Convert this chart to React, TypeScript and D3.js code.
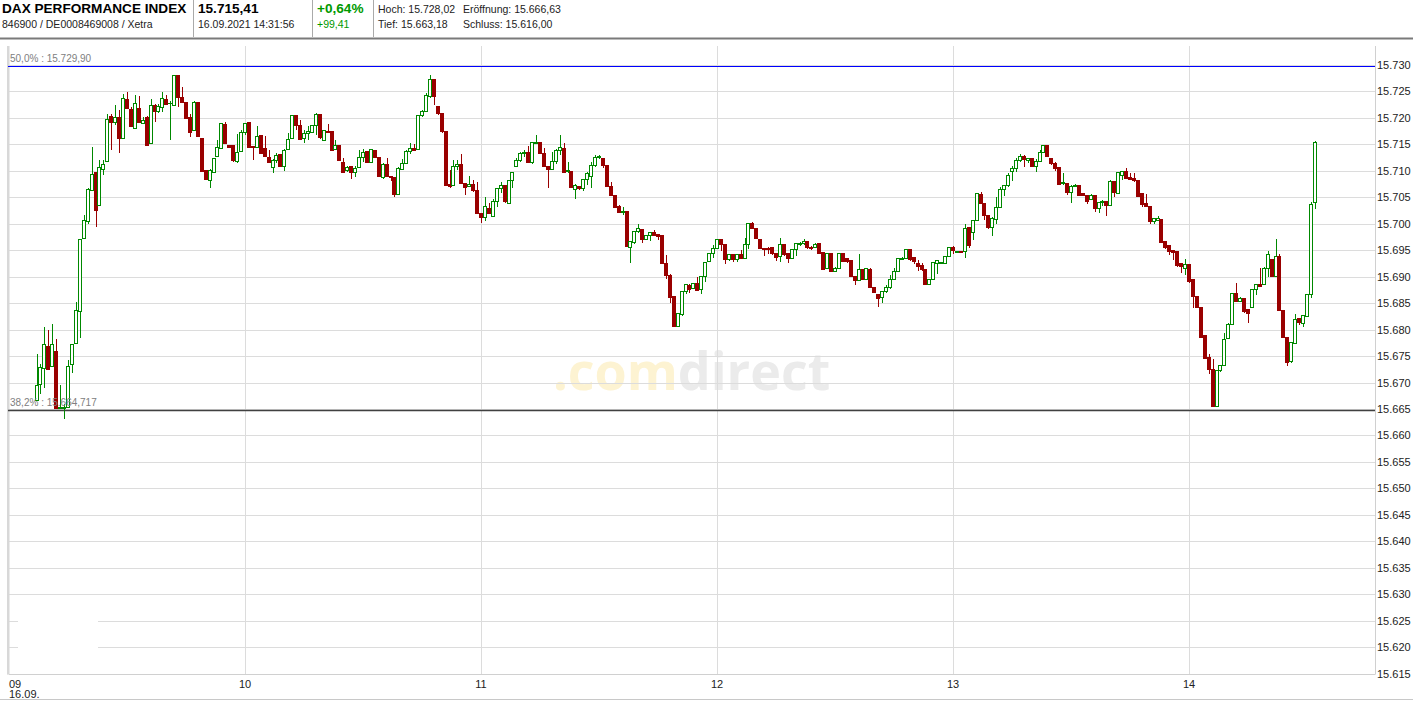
import React, { useEffect, useRef } from 'react';
import * as d3 from 'd3';

// 1-minute bars, first bar 09:07
const FIRST_BAR = new Date(2021, 8, 16, 9, 7);

const opens = [
    15666.6, 15669.6, 15672.6, 15676.9, 15673.0, 15675.9, 15665.0, 15665.0, 15665.2, 15673.5,
    15677.4, 15683.4, 15697.2, 15700.4, 15706.2, 15709.7, 15703.4, 15710.3, 15711.7, 15720.3,
    15719.1, 15720.1, 15716.2, 15723.5, 15721.5, 15718.0, 15721.7, 15719.0, 15720.1, 15715.2,
    15722.4, 15721.2, 15721.9, 15723.5, 15722.7, 15722.4, 15728.0, 15723.9, 15723.0, 15720.1,
    15717.7, 15722.9, 15716.1, 15710.0, 15708.2, 15709.7, 15712.8, 15714.2, 15718.8, 15714.7,
    15714.7, 15711.7, 15713.7, 15717.2, 15719.2, 15714.6, 15714.4, 15716.6, 15714.2, 15712.5,
    15710.7, 15712.0, 15713.0, 15710.8, 15714.1, 15716.1, 15720.4, 15718.6, 15716.1, 15717.1,
    15717.2, 15718.5, 15720.7, 15715.8, 15717.5, 15717.5, 15714.1, 15714.7, 15711.5, 15710.0,
    15710.9, 15709.6, 15710.7, 15712.5, 15713.7, 15711.5, 15713.9, 15712.5, 15708.8, 15711.2,
    15709.0, 15708.8, 15705.6, 15710.3, 15711.4, 15713.6, 15714.2, 15714.1, 15720.4, 15721.3,
    15724.1, 15727.3, 15722.2, 15720.9, 15717.5, 15707.5, 15707.3, 15710.8, 15711.2, 15707.6,
    15707.0, 15707.5, 15706.2, 15702.0, 15701.2, 15702.9, 15701.3, 15704.2, 15706.7, 15707.3,
    15703.9, 15708.1, 15710.8, 15712.0, 15713.3, 15713.5, 15711.5, 15715.2, 15715.4, 15713.2,
    15710.9, 15710.2, 15711.8, 15713.8, 15714.2, 15709.8, 15709.8, 15706.4, 15707.1, 15706.6,
    15708.4, 15709.0, 15711.0, 15712.5, 15712.4, 15711.1, 15707.1, 15705.4, 15703.3, 15702.2,
    15702.4, 15695.5, 15696.4, 15698.6, 15698.9, 15697.0, 15697.7, 15698.3, 15697.9, 15697.7,
    15692.5, 15690.3, 15686.3, 15680.5, 15682.9, 15687.2, 15688.4, 15687.8, 15688.7, 15687.5,
    15690.0, 15692.8, 15694.4, 15695.3, 15697.1, 15696.0, 15693.2, 15694.1, 15693.3, 15694.1,
    15693.5, 15696.0, 15700.1, 15699.1, 15697.1, 15695.4, 15695.4, 15695.6, 15694.4, 15693.8,
    15696.0, 15694.3, 15693.5, 15695.2, 15696.0, 15696.2, 15696.6, 15695.6, 15695.6, 15696.2,
    15694.5, 15691.6, 15694.3, 15691.0, 15691.6, 15694.4, 15693.5, 15693.0, 15690.0, 15689.3,
    15691.3, 15689.4, 15691.4, 15688.0, 15686.7, 15686.1, 15687.2, 15688.0, 15689.4, 15691.0,
    15693.3, 15693.5, 15695.1, 15693.7, 15692.4, 15692.2, 15691.4, 15688.6, 15689.4, 15692.5,
    15692.5, 15692.4, 15693.9, 15695.6, 15694.5, 15694.7, 15694.7, 15699.3, 15698.3, 15700.7,
    15705.6, 15703.8, 15701.6, 15699.3, 15700.8, 15703.1, 15706.4, 15707.3, 15709.8, 15710.5,
    15711.9, 15712.8, 15712.0, 15712.3, 15710.9, 15711.7, 15713.4, 15714.7, 15712.3, 15711.4,
    15710.6, 15707.6, 15707.7, 15705.9, 15707.1, 15707.3, 15705.7, 15705.4, 15704.6, 15705.4,
    15702.9, 15704.0, 15704.3, 15703.5, 15707.9, 15705.7, 15709.2, 15709.8, 15708.8, 15708.6,
    15708.2, 15705.7, 15703.8, 15703.3, 15700.4, 15700.6, 15700.8, 15696.6, 15695.8, 15694.9,
    15694.7, 15692.5, 15691.6, 15692.3, 15689.5, 15686.3, 15684.2, 15678.8, 15674.7, 15672.5,
    15665.5, 15672.2, 15673.3, 15678.3, 15681.0, 15686.8, 15685.3, 15685.9, 15683.8, 15684.2,
    15687.5, 15688.6, 15688.6, 15691.6, 15693.3, 15690.1, 15693.9, 15683.6, 15678.5, 15673.9,
    15677.4, 15682.1, 15681.2, 15682.5, 15686.7, 15704.0
];

const highs = [
    15675.4, 15673.5, 15680.5, 15679.9, 15681.1, 15678.3, 15669.5, 15666.0, 15674.2, 15677.1,
    15685.2, 15697.2, 15701.6, 15706.7, 15714.5, 15709.7, 15712.0, 15712.0, 15720.7, 15720.7,
    15722.4, 15721.5, 15724.5, 15724.9, 15722.1, 15724.3, 15724.1, 15720.2, 15720.4, 15723.5,
    15722.6, 15722.7, 15724.9, 15724.3, 15723.2, 15728.0, 15728.0, 15725.9, 15723.0, 15720.7,
    15723.2, 15722.9, 15716.1, 15710.2, 15710.4, 15712.3, 15715.9, 15718.9, 15719.3, 15714.8,
    15714.7, 15716.9, 15717.8, 15718.9, 15719.2, 15714.7, 15718.5, 15716.8, 15716.6, 15713.9,
    15712.3, 15713.3, 15713.0, 15714.2, 15717.2, 15720.4, 15720.4, 15719.7, 15717.7, 15718.5,
    15718.7, 15721.0, 15720.7, 15717.7, 15718.8, 15717.5, 15715.9, 15714.7, 15712.5, 15710.9,
    15710.9, 15710.9, 15714.0, 15714.2, 15713.7, 15714.1, 15713.9, 15712.5, 15711.4, 15712.5,
    15709.0, 15708.8, 15710.8, 15712.2, 15713.9, 15715.3, 15715.1, 15720.4, 15721.5, 15724.8,
    15728.1, 15727.3, 15722.2, 15720.9, 15717.5, 15710.2, 15712.0, 15712.0, 15713.2, 15707.6,
    15709.0, 15708.3, 15707.9, 15702.0, 15705.1, 15703.9, 15704.6, 15706.7, 15707.8, 15707.3,
    15708.1, 15709.7, 15712.4, 15713.6, 15713.9, 15714.7, 15715.4, 15716.8, 15715.4, 15714.4,
    15710.9, 15713.5, 15714.1, 15716.8, 15715.2, 15711.7, 15709.8, 15707.5, 15707.1, 15708.4,
    15709.8, 15711.7, 15712.9, 15712.9, 15712.4, 15711.1, 15707.9, 15705.4, 15703.5, 15703.1,
    15702.4, 15696.6, 15698.6, 15699.9, 15698.9, 15697.7, 15698.3, 15698.9, 15697.9, 15697.7,
    15694.1, 15690.5, 15686.3, 15683.1, 15687.2, 15688.7, 15688.7, 15688.9, 15690.0, 15690.1,
    15692.7, 15694.5, 15696.0, 15697.1, 15697.1, 15696.0, 15694.1, 15694.3, 15694.1, 15695.0,
    15697.3, 15700.0, 15700.4, 15699.1, 15697.1, 15695.4, 15695.6, 15695.6, 15694.4, 15697.3,
    15696.0, 15694.3, 15695.2, 15696.4, 15696.6, 15697.1, 15696.6, 15695.8, 15696.4, 15696.2,
    15694.5, 15694.3, 15694.3, 15691.9, 15694.5, 15694.5, 15693.5, 15693.0, 15690.0, 15694.3,
    15691.3, 15691.6, 15691.6, 15688.0, 15686.7, 15687.2, 15688.4, 15690.3, 15691.6, 15693.5,
    15693.8, 15695.2, 15695.2, 15693.8, 15693.2, 15692.5, 15691.4, 15689.4, 15692.7, 15693.2,
    15692.6, 15693.9, 15695.7, 15695.8, 15694.7, 15694.7, 15699.9, 15699.3, 15700.7, 15705.9,
    15706.0, 15703.8, 15701.6, 15701.2, 15705.1, 15706.9, 15707.3, 15709.6, 15710.9, 15712.5,
    15713.2, 15713.0, 15712.3, 15712.3, 15712.2, 15714.0, 15714.9, 15714.7, 15712.3, 15711.7,
    15710.6, 15709.6, 15707.7, 15707.3, 15707.6, 15707.3, 15705.9, 15705.4, 15705.6, 15705.4,
    15704.0, 15704.5, 15704.3, 15708.2, 15707.9, 15709.8, 15710.0, 15710.5, 15709.6, 15709.5,
    15708.2, 15705.7, 15705.6, 15703.3, 15701.0, 15701.4, 15700.8, 15696.8, 15695.8, 15695.1,
    15694.7, 15692.5, 15693.3, 15692.3, 15689.5, 15686.3, 15684.2, 15678.8, 15675.4, 15674.5,
    15672.2, 15673.3, 15679.4, 15681.3, 15687.0, 15688.8, 15686.2, 15685.9, 15683.8, 15687.5,
    15688.6, 15691.7, 15691.9, 15694.9, 15693.4, 15697.2, 15694.3, 15683.6, 15678.5, 15677.5,
    15682.9, 15682.1, 15682.7, 15686.7, 15704.2, 15715.7
];

const lows = [
    15666.6, 15667.8, 15668.9, 15672.3, 15673.0, 15665.0, 15665.0, 15663.2, 15665.2, 15671.8,
    15677.4, 15678.4, 15697.2, 15699.9, 15706.2, 15699.4, 15703.4, 15709.2, 15711.7, 15713.9,
    15718.6, 15713.4, 15716.2, 15721.7, 15718.2, 15718.0, 15719.0, 15719.0, 15714.6, 15715.2,
    15719.3, 15721.0, 15721.2, 15722.4, 15715.8, 15722.4, 15722.1, 15722.9, 15719.8, 15716.4,
    15717.7, 15716.4, 15709.8, 15708.2, 15706.7, 15709.7, 15712.8, 15714.2, 15715.2, 15714.3,
    15711.6, 15711.4, 15713.6, 15716.7, 15714.4, 15712.0, 15714.4, 15713.2, 15712.7, 15711.4,
    15709.5, 15711.4, 15710.8, 15710.0, 15713.9, 15716.1, 15717.7, 15716.0, 15715.3, 15715.8,
    15717.1, 15716.8, 15716.1, 15715.8, 15717.1, 15713.8, 15714.1, 15711.9, 15709.6, 15709.8,
    15708.5, 15708.8, 15710.5, 15711.7, 15711.5, 15711.4, 15712.4, 15708.9, 15708.4, 15708.9,
    15708.1, 15705.1, 15705.6, 15710.2, 15711.3, 15713.1, 15713.8, 15714.1, 15720.1, 15721.3,
    15723.7, 15722.4, 15720.5, 15717.2, 15707.3, 15706.7, 15707.1, 15710.2, 15707.6, 15705.4,
    15706.9, 15706.0, 15701.9, 15700.1, 15700.5, 15701.8, 15701.2, 15703.1, 15705.9, 15704.0,
    15703.9, 15706.7, 15710.8, 15711.7, 15712.7, 15711.4, 15711.3, 15715.2, 15713.2, 15710.8,
    15706.7, 15710.2, 15711.3, 15713.0, 15709.6, 15709.6, 15706.8, 15704.7, 15706.4, 15706.2,
    15707.3, 15706.8, 15710.8, 15712.2, 15710.5, 15707.0, 15705.4, 15702.9, 15702.1, 15701.6,
    15695.7, 15692.6, 15696.2, 15698.3, 15696.4, 15696.9, 15696.8, 15697.7, 15697.0, 15692.5,
    15689.5, 15685.1, 15680.4, 15680.4, 15682.6, 15686.8, 15687.0, 15687.8, 15687.3, 15686.8,
    15689.0, 15692.8, 15693.6, 15695.3, 15694.9, 15692.4, 15693.0, 15692.8, 15692.7, 15693.3,
    15693.5, 15695.2, 15699.1, 15697.1, 15695.2, 15693.9, 15694.3, 15694.1, 15693.0, 15692.8,
    15693.9, 15692.5, 15693.5, 15693.9, 15695.8, 15696.0, 15695.2, 15695.0, 15695.4, 15694.3,
    15691.3, 15691.4, 15691.0, 15690.8, 15691.6, 15692.8, 15692.5, 15690.0, 15688.4, 15689.3,
    15689.3, 15689.4, 15688.0, 15686.9, 15684.2, 15685.0, 15686.9, 15687.6, 15689.3, 15690.8,
    15693.2, 15693.3, 15693.0, 15692.4, 15691.1, 15691.0, 15688.4, 15688.6, 15689.4, 15690.5,
    15692.4, 15692.4, 15693.9, 15694.3, 15694.5, 15694.5, 15693.6, 15695.5, 15696.9, 15700.6,
    15703.7, 15700.8, 15699.1, 15697.7, 15699.9, 15703.1, 15705.2, 15706.9, 15708.1, 15709.8,
    15711.7, 15710.8, 15711.5, 15710.9, 15709.8, 15711.7, 15713.3, 15712.7, 15711.1, 15710.0,
    15707.3, 15707.3, 15705.4, 15704.0, 15707.0, 15705.4, 15705.2, 15703.8, 15704.5, 15702.3,
    15702.1, 15703.3, 15701.4, 15703.5, 15705.1, 15705.7, 15708.2, 15708.4, 15708.2, 15707.9,
    15705.2, 15703.2, 15703.2, 15699.9, 15699.9, 15700.6, 15696.4, 15695.3, 15694.1, 15693.1,
    15691.9, 15690.7, 15690.3, 15688.8, 15684.0, 15684.0, 15678.6, 15674.4, 15671.7, 15665.5,
    15665.4, 15672.0, 15673.3, 15678.3, 15681.0, 15685.3, 15685.3, 15683.2, 15681.3, 15684.2,
    15686.5, 15688.2, 15688.6, 15690.0, 15689.9, 15690.1, 15683.7, 15678.5, 15673.1, 15673.7,
    15677.4, 15680.8, 15680.4, 15682.3, 15685.9, 15702.7
];

const closes = [
    15669.4, 15672.8, 15677.1, 15672.5, 15677.1, 15665.0, 15665.3, 15665.2, 15673.1, 15677.1,
    15683.7, 15697.0, 15700.6, 15706.4, 15709.3, 15702.6, 15710.6, 15711.2, 15719.7, 15719.1,
    15720.1, 15716.2, 15723.7, 15721.7, 15718.3, 15722.7, 15719.1, 15719.6, 15714.7, 15722.4,
    15721.2, 15722.1, 15723.7, 15722.5, 15722.8, 15728.0, 15723.9, 15722.9, 15719.8, 15717.3,
    15722.9, 15716.4, 15709.8, 15708.4, 15710.1, 15712.3, 15714.4, 15718.9, 15715.2, 15714.4,
    15711.9, 15713.5, 15717.2, 15718.9, 15714.4, 15714.5, 15716.4, 15713.3, 15712.7, 15711.5,
    15712.0, 15712.9, 15710.8, 15713.9, 15715.9, 15720.4, 15718.5, 15716.0, 15717.1, 15717.4,
    15718.5, 15720.7, 15716.3, 15717.7, 15717.2, 15713.8, 15714.7, 15711.9, 15709.6, 15710.6,
    15709.6, 15710.5, 15712.5, 15713.4, 15711.5, 15714.1, 15712.5, 15708.9, 15711.2, 15708.9,
    15708.8, 15705.6, 15710.5, 15711.4, 15713.7, 15714.2, 15713.8, 15720.4, 15721.3, 15724.3,
    15727.3, 15724.0, 15720.9, 15717.4, 15707.3, 15707.1, 15710.8, 15711.2, 15707.6, 15706.9,
    15707.4, 15706.2, 15701.9, 15701.1, 15703.3, 15702.0, 15704.2, 15706.7, 15707.3, 15704.2,
    15708.1, 15709.7, 15712.0, 15713.3, 15713.5, 15711.5, 15715.4, 15715.4, 15713.2, 15710.8,
    15710.2, 15711.8, 15713.9, 15714.4, 15709.6, 15710.1, 15706.8, 15707.2, 15706.6, 15708.4,
    15709.5, 15711.0, 15712.5, 15712.7, 15711.0, 15707.0, 15705.4, 15703.1, 15702.1, 15702.4,
    15695.7, 15696.6, 15698.6, 15699.1, 15697.0, 15697.7, 15698.3, 15697.7, 15697.6, 15692.5,
    15690.2, 15686.1, 15680.5, 15683.1, 15687.2, 15688.5, 15687.5, 15688.7, 15687.3, 15690.1,
    15692.7, 15694.4, 15695.3, 15697.0, 15696.0, 15693.2, 15694.1, 15693.2, 15694.1, 15693.5,
    15696.0, 15700.0, 15699.1, 15697.3, 15695.4, 15695.2, 15695.2, 15694.3, 15693.7, 15696.0,
    15694.1, 15693.5, 15695.2, 15696.3, 15696.3, 15696.6, 15695.6, 15695.4, 15696.1, 15694.4,
    15691.4, 15694.3, 15691.0, 15691.6, 15694.4, 15692.8, 15692.8, 15690.0, 15689.3, 15691.3,
    15689.4, 15691.6, 15688.0, 15687.0, 15685.9, 15687.2, 15688.0, 15689.4, 15691.0, 15693.5,
    15693.5, 15695.1, 15693.2, 15692.8, 15691.9, 15691.3, 15688.6, 15689.4, 15692.7, 15693.0,
    15692.6, 15693.9, 15695.6, 15694.9, 15694.7, 15694.5, 15699.1, 15695.8, 15700.7, 15705.7,
    15703.8, 15701.5, 15699.3, 15701.0, 15703.1, 15706.4, 15707.3, 15709.2, 15710.5, 15711.9,
    15712.8, 15712.2, 15712.3, 15710.9, 15711.7, 15713.4, 15714.7, 15712.7, 15711.3, 15710.5,
    15707.5, 15707.8, 15705.9, 15707.1, 15707.3, 15705.4, 15705.3, 15704.2, 15705.4, 15702.8,
    15704.0, 15704.3, 15703.5, 15707.9, 15705.9, 15709.6, 15709.8, 15708.6, 15708.4, 15708.1,
    15705.2, 15703.7, 15703.3, 15700.4, 15701.0, 15701.0, 15696.4, 15695.5, 15694.7, 15694.5,
    15692.2, 15691.9, 15692.3, 15689.0, 15686.2, 15684.2, 15678.6, 15674.5, 15672.5, 15665.5,
    15672.2, 15673.3, 15678.1, 15681.0, 15686.8, 15685.3, 15685.9, 15683.4, 15683.1, 15687.5,
    15688.6, 15688.2, 15691.6, 15694.1, 15690.0, 15693.8, 15683.7, 15678.5, 15673.7, 15677.5,
    15681.9, 15681.3, 15682.7, 15686.7, 15703.7, 15715.4
];

// Retracement levels
const levels = [
    { value: 15729.90, label: '50,0% : 15.729,90', color: '#0000ff', width: 1 },
    { value: 15664.717, label: '38,2% : 15.664,717', color: '#404040', width: 1.5 }
];

const hourTicks = [9, 10, 11, 12, 13, 14];
const hourLabels = ['09', '10', '11', '12', '13', '14'];
const yTicks = d3.range(15615, 15731, 5);

const headerLeft = ['DAX PERFORMANCE INDEX', '846900 / DE0008469008 / Xetra'];
const headerPrice = ['15.715,41', '16.09.2021 14:31:56'];
const headerChange = ['+0,64%', '+99,41'];
const headerStats = [
    ['Hoch: 15.728,02', 'Eröffnung: 15.666,63'],
    ['Tief: 15.663,18', 'Schluss: 15.616,00']
];
const watermark = ['.com', 'direct'];

const W = 1413;
const H = 701;
const FONT = '"Liberation Sans", Arial, sans-serif';

const CandleChart: React.FC = () => {
    const svgRef = useRef<SVGSVGElement>(null);

    useEffect(() => {
        if (!svgRef.current) return;
        const svg = d3.select(svgRef.current);
        svg.selectAll('*').remove();

        const left = 9;
        const right = 1375;
        const top = 46;
        const bottom = 673.6;

        const x = d3.scaleTime()
            .domain([new Date(2021, 8, 16, 9, 0), new Date(2021, 8, 16, 14, 0)])
            .range([left, 1189]);
        const y = d3.scaleLinear().domain([15615, 15730]).range([bottom, 65]);
        const crisp = (v: number) => Math.round(v) + 0.5;

        const bars = opens.map((o, i) => ({
            t: d3.timeMinute.offset(FIRST_BAR, i),
            o, h: highs[i], l: lows[i], c: closes[i]
        }));

        svg.append('rect').attr('width', W).attr('height', H).attr('fill', '#fff');

        // ---- header
        const hdr = svg.append('g').attr('font-family', FONT);
        hdr.append('text').attr('x', 2).attr('y', 13).attr('font-size', 13.6)
            .attr('font-weight', 'bold').attr('fill', '#000').text(headerLeft[0]);
        hdr.append('text').attr('x', 2).attr('y', 27.5).attr('font-size', 10.5)
            .attr('fill', '#222').text(headerLeft[1]);
        hdr.append('text').attr('x', 198).attr('y', 13).attr('font-size', 13.6)
            .attr('font-weight', 'bold').attr('fill', '#000').text(headerPrice[0]);
        hdr.append('text').attr('x', 198).attr('y', 27.5).attr('font-size', 10.5)
            .attr('fill', '#222').text(headerPrice[1]);
        hdr.append('text').attr('x', 317).attr('y', 13).attr('font-size', 13.6)
            .attr('font-weight', 'bold').attr('fill', '#009900').text(headerChange[0]);
        hdr.append('text').attr('x', 317).attr('y', 27.5).attr('font-size', 10.5)
            .attr('fill', '#009900').text(headerChange[1]);
        headerStats.forEach((row, r) => {
            row.forEach((s, k) => {
                hdr.append('text').attr('x', k === 0 ? 378 : 463).attr('y', 12.5 + r * 15)
                    .attr('font-size', 10.5).attr('fill', '#222').text(s);
            });
        });
        [193, 312, 373].forEach(sx => {
            hdr.append('line').attr('x1', sx + 0.5).attr('x2', sx + 0.5).attr('y1', 0).attr('y2', 37)
                .attr('stroke', '#aaa').attr('stroke-width', 1);
        });
        hdr.append('rect').attr('x', 0).attr('y', 37.5).attr('width', W).attr('height', 2).attr('fill', '#7a7a7a');

        // ---- watermark (one text, two colours)
        const wm = svg.append('text').attr('x', 553).attr('y', 390)
            .attr('font-family', '"Open Sans", sans-serif').attr('font-weight', 'bold')
            .attr('font-size', 52);
        wm.append('tspan').attr('fill', '#fdf3d2').text(watermark[0]);
        wm.append('tspan').attr('fill', '#ebebeb').text(watermark[1]);

        // ---- grid
        const grid = svg.append('g').attr('shape-rendering', 'crispEdges');
        grid.selectAll('line.h').data(yTicks).enter().append('line')
            .attr('x1', left).attr('x2', right)
            .attr('y1', d => crisp(y(d))).attr('y2', d => crisp(y(d)))
            .attr('stroke', '#dcdcdc');
        grid.selectAll('line.v').data(hourTicks.slice(1)).enter().append('line')
            .attr('x1', d => crisp(x(new Date(2021, 8, 16, d, 0))))
            .attr('x2', d => crisp(x(new Date(2021, 8, 16, d, 0))))
            .attr('y1', top).attr('y2', bottom)
            .attr('stroke', '#dcdcdc');

        // hidden legend box bottom-left
        svg.append('rect').attr('x', 18).attr('y', 600).attr('width', 80).attr('height', 68).attr('fill', '#fff');

        // frame
        svg.append('rect').attr('x', 7).attr('y', top).attr('width', 2.5).attr('height', bottom - top + 1).attr('fill', '#d8d8d8');
        svg.append('line').attr('x1', right + 0.5).attr('x2', right + 0.5).attr('y1', top).attr('y2', bottom + 1)
            .attr('stroke', '#d0d0d0');
        svg.append('line').attr('x1', left).attr('x2', right).attr('y1', crisp(bottom)).attr('y2', crisp(bottom))
            .attr('stroke', '#d0d0d0');
        svg.append('line').attr('x1', 0).attr('x2', W).attr('y1', 699.5).attr('y2', 699.5).attr('stroke', '#c8c8c8');

        // levels
        levels.forEach(lv => {
            const ly = lv.width > 1 ? y(lv.value) : crisp(y(lv.value));
            svg.append('line').attr('x1', 8).attr('x2', right)
                .attr('y1', ly).attr('y2', ly)
                .attr('stroke', lv.color).attr('stroke-width', lv.width);
        });

        // ---- candles
        const cg = svg.append('g').attr('shape-rendering', 'crispEdges');
        bars.forEach(b => {
            const cx = crisp(x(b.t));
            const up = b.c >= b.o;
            const col = up ? '#008800' : '#990000';
            cg.append('line').attr('x1', cx).attr('x2', cx)
                .attr('y1', y(b.h)).attr('y2', y(b.l)).attr('stroke', col);
            const y0 = y(Math.max(b.o, b.c));
            const y1 = y(Math.min(b.o, b.c));
            cg.append('rect').attr('x', cx - 2).attr('y', y0)
                .attr('width', 3).attr('height', Math.max(0, y1 - y0))
                .attr('fill', up ? '#fff' : col).attr('stroke', col).attr('stroke-width', 1);
        });

        // level labels
        levels.forEach(lv => {
            svg.append('text').attr('x', 10).attr('y', y(lv.value) - 4)
                .attr('font-family', FONT).attr('font-size', 10).attr('fill', '#808080')
                .text(lv.label);
        });

        // ---- y axis labels
        svg.append('g').selectAll('text').data(yTicks).enter().append('text')
            .attr('x', right + 2).attr('y', d => y(d) + 4)
            .attr('font-family', FONT).attr('font-size', 11).attr('fill', '#222')
            .text(d => d3.format('.3f')(d / 1000));

        // ---- x axis labels
        const xl = svg.append('g').attr('font-family', FONT).attr('font-size', 11).attr('fill', '#222');
        hourTicks.forEach((hr, i) => {
            const px = x(new Date(2021, 8, 16, hr, 0));
            xl.append('text').attr('x', i === 0 ? left : px).attr('y', 688)
                .attr('text-anchor', i === 0 ? 'start' : 'middle').text(hourLabels[i]);
        });
        xl.append('text').attr('x', left).attr('y', 698).text('16.09.');
    }, []);

    return <svg ref={svgRef} width={W} height={H} style={{ display: 'block' }} />;
};

export default function App() {
    return (
        <div style={{ position: 'absolute', left: 0, top: 0 }}>
            <CandleChart />
        </div>
    );
}
